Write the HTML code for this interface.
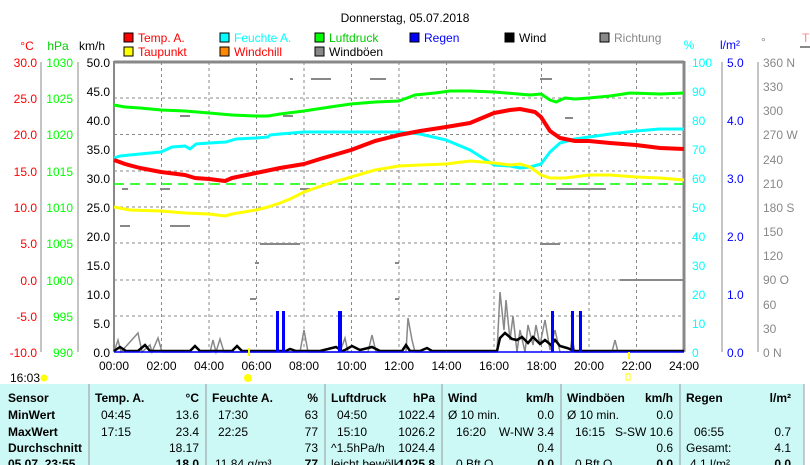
<!DOCTYPE html>
<html><head><meta charset="utf-8"><style>
body{margin:0;background:#fff;width:810px;height:465px;overflow:hidden;font-family:"Liberation Sans",sans-serif}
svg{position:absolute;left:0;top:0}
text{font-family:"Liberation Sans",sans-serif;font-size:12px}
</style></head><body>
<svg width="810" height="465" viewBox="0 0 810 465">
<text x="405" y="22" font-size="16" text-anchor="middle" fill="#000">Donnerstag, 05.07.2018</text>
<g font-size="12">
<rect x="124" y="33" width="9" height="9" fill="#f00" stroke="#000"/><text x="138" y="42" fill="#f00">Temp. A.</text>
<rect x="124" y="47" width="9" height="9" fill="#ff0" stroke="#000"/><text x="138" y="56" fill="#f00">Taupunkt</text>
<rect x="220" y="33" width="9" height="9" fill="#0ff" stroke="#000"/><text x="234" y="42" fill="#0ff">Feuchte A.</text>
<rect x="220" y="47" width="9" height="9" fill="#f80" stroke="#000"/><text x="234" y="56" fill="#f00">Windchill</text>
<rect x="315" y="33" width="9" height="9" fill="#0f0" stroke="#000"/><text x="329" y="42" fill="#0c0">Luftdruck</text>
<rect x="315" y="47" width="9" height="9" fill="#888" stroke="#000"/><text x="329" y="56" fill="#000">Windböen</text>
<rect x="410" y="33" width="9" height="9" fill="#00f" stroke="#000"/><text x="424" y="42" fill="#00f">Regen</text>
<rect x="505" y="33" width="9" height="9" fill="#000" stroke="#000"/><text x="519" y="42" fill="#000">Wind</text>
<rect x="600" y="33" width="9" height="9" fill="#888" stroke="#000"/><text x="614" y="42" fill="#888">Richtung</text>
</g>
<text x="27" y="50" fill="#f00" text-anchor="middle">°C</text>
<text x="58" y="50" fill="#0c0" text-anchor="middle">hPa</text>
<text x="92" y="50" fill="#000" text-anchor="middle">km/h</text>
<text x="689" y="49" fill="#0ff" text-anchor="middle">%</text>
<text x="730" y="49" fill="#00f" text-anchor="middle">l/m²</text>
<text x="761" y="46" fill="#888" font-size="9">°</text>
<text x="802" y="42" fill="#f88">T</text>
<line x1="800" y1="47" x2="810" y2="47" stroke="#888" stroke-width="2"/>
<g stroke="#888" stroke-dasharray="3,3" stroke-width="1">
<line x1="114" y1="98" x2="684" y2="98"/><line x1="114" y1="134.5" x2="684" y2="134.5"/><line x1="114" y1="171" x2="684" y2="171"/><line x1="114" y1="207" x2="684" y2="207"/><line x1="114" y1="243" x2="684" y2="243"/><line x1="114" y1="280" x2="684" y2="280"/><line x1="114" y1="316" x2="684" y2="316"/>
<line x1="161.5" y1="62" x2="161.5" y2="352"/><line x1="209" y1="62" x2="209" y2="352"/><line x1="256.5" y1="62" x2="256.5" y2="352"/><line x1="304" y1="62" x2="304" y2="352"/><line x1="351.5" y1="62" x2="351.5" y2="352"/><line x1="399" y1="62" x2="399" y2="352"/><line x1="446.5" y1="62" x2="446.5" y2="352"/><line x1="494" y1="62" x2="494" y2="352"/><line x1="541.5" y1="62" x2="541.5" y2="352"/><line x1="589" y1="62" x2="589" y2="352"/><line x1="636.5" y1="62" x2="636.5" y2="352"/>
</g>
<line x1="114" y1="62" x2="684" y2="62" stroke="#888" stroke-width="3"/>
<line x1="114" y1="61" x2="114" y2="352" stroke="#888" stroke-width="2"/>
<line x1="684" y1="61" x2="684" y2="352" stroke="#888" stroke-width="3"/>
<line x1="620" y1="280" x2="684" y2="280" stroke="#888" stroke-width="2"/>
<g stroke="#888"><line x1="41" y1="62" x2="41" y2="352"/><line x1="78" y1="62" x2="78" y2="352"/><line x1="722" y1="62" x2="722" y2="352"/><line x1="758" y1="62" x2="758" y2="352"/></g>
<g fill="#f00" text-anchor="end">
<text x="37" y="67">30.0</text><text x="37" y="103">25.0</text><text x="37" y="139">20.0</text><text x="37" y="176">15.0</text><text x="37" y="212">10.0</text><text x="37" y="248">5.0</text><text x="37" y="285">0.0</text><text x="37" y="321">-5.0</text><text x="37" y="357">-10.0</text></g>
<g fill="#0f0" text-anchor="end">
<text x="73" y="67">1030</text><text x="73" y="103">1025</text><text x="73" y="139">1020</text><text x="73" y="176">1015</text><text x="73" y="212">1010</text><text x="73" y="248">1005</text><text x="73" y="285">1000</text><text x="73" y="321">995</text><text x="73" y="357">990</text></g>
<g fill="#000" text-anchor="end">
<text x="110" y="67">50.0</text><text x="110" y="96">45.0</text><text x="110" y="125">40.0</text><text x="110" y="154">35.0</text><text x="110" y="183">30.0</text><text x="110" y="212">25.0</text><text x="110" y="241">20.0</text><text x="110" y="270">15.0</text><text x="110" y="299">10.0</text><text x="110" y="328">5.0</text><text x="110" y="357">0.0</text></g>
<g fill="#0ff">
<text x="692" y="67">100</text><text x="692" y="96">90</text><text x="692" y="125">80</text><text x="692" y="154">70</text><text x="692" y="183">60</text><text x="692" y="212">50</text><text x="692" y="241">40</text><text x="692" y="270">30</text><text x="692" y="299">20</text><text x="692" y="328">10</text><text x="692" y="357">0</text></g>
<g fill="#00f">
<text x="727" y="67">5.0</text><text x="727" y="125">4.0</text><text x="727" y="183">3.0</text><text x="727" y="241">2.0</text><text x="727" y="299">1.0</text><text x="727" y="357">0.0</text></g>
<g fill="#888">
<text x="763" y="67">360 N</text><text x="763" y="91">330</text><text x="763" y="115">300</text><text x="763" y="139">270 W</text><text x="763" y="164">240</text><text x="763" y="188">210</text><text x="763" y="212">180 S</text><text x="763" y="236">150</text><text x="763" y="260">120</text><text x="763" y="284">90  O</text><text x="763" y="309">60</text><text x="763" y="333">30</text><text x="763" y="357">0    N</text></g>
<g text-anchor="middle" fill="#000">
<text x="114" y="370">00:00</text><text x="161.5" y="370">02:00</text><text x="209" y="370">04:00</text><text x="256.5" y="370">06:00</text><text x="304" y="370">08:00</text><text x="351.5" y="370">10:00</text><text x="399" y="370">12:00</text><text x="446.5" y="370">14:00</text><text x="494" y="370">16:00</text><text x="541.5" y="370">18:00</text><text x="589" y="370">20:00</text><text x="636.5" y="370">22:00</text><text x="684" y="370">24:00</text></g>
<g fill="#888">
<rect x="290" y="78" width="3" height="2"/><rect x="311" y="78" width="20" height="2"/><rect x="370" y="78" width="16" height="2"/><rect x="540" y="78" width="12" height="2"/>
<rect x="180" y="115" width="10" height="2"/><rect x="283" y="115" width="10" height="2"/><rect x="565" y="117" width="8" height="2"/>
<rect x="122" y="188" width="6" height="2"/><rect x="160" y="188" width="10" height="2"/><rect x="300" y="188" width="10" height="2"/><rect x="556" y="188" width="50" height="2"/>
<rect x="120" y="225" width="10" height="2"/><rect x="170" y="225" width="20" height="2"/><rect x="260" y="243" width="40" height="2"/><rect x="540" y="243" width="20" height="2"/>
<rect x="255" y="262" width="4" height="2"/><rect x="395" y="262" width="4" height="2"/><rect x="250" y="298" width="6" height="2"/><rect x="395" y="298" width="4" height="2"/>
</g>
<line x1="114" y1="184" x2="684" y2="184" stroke="#0f0" stroke-width="1.5" stroke-dasharray="10,6"/>
<g fill="none" stroke-linejoin="round">
<polyline stroke="#0f0" stroke-width="3" points="114,105 125,107 140,108 161,110 185,111 209,113 232,115 256,116 268,116 280,114 304,111 330,107 351,104 375,102 399,101 415,95 435,93 450,91 470,91 494,92 518,94 530,95 541,94 550,100 556,102 565,98 575,99 589,98 610,96 630,93 660,94 684,93"/>
<polyline stroke="#0ff" stroke-width="3" points="114,158 120,156 140,154 161,152 172,147 185,146 190,149 196,144 209,143 226,142 236,139 256,138 268,137 270,135 280,134 304,132 330,132 351,132 372,132 399,132 420,134 446,140 470,150 494,165 510,166 520,168 530,167 541,164 550,152 560,143 575,139 589,137 610,134 636,131 660,129 684,129"/>
<polyline stroke="#f00" stroke-width="4" points="114,160 125,164 140,168 161,172 185,175 195,178 209,179 225,181 232,178 256,173 280,168 304,164 320,159 351,150 375,141 399,135 420,131 446,127 470,123 494,113 510,110 520,109 535,112 541,117 550,131 560,138 575,141 589,141 610,143 636,145 660,148 684,149"/>
<polyline stroke="#ff0" stroke-width="3" points="114,207 130,210 161,211 185,213 209,214 225,216 232,214 256,210 268,207 280,203 290,199 304,192 330,183 351,177 375,170 399,166 420,165 446,164 470,161 494,163 510,165 520,164 530,167 541,175 550,178 565,178 589,175 610,175 636,177 660,178 684,180"/>
</g>
<polyline fill="none" stroke="#888" stroke-width="1.5" points="114,352 118,340 121,352 138,333 142,352 150,345 152,352 158,338 162,352 210,352 213,340 216,352 220,339 224,352 300,352 304,330 308,352 340,352 345,338 348,352 368,352 372,335 376,352 406,352 408,318 412,340 415,352 497,352 500,292 504,330 506,300 510,340 513,316 517,352 520,330 525,352 528,325 533,345 536,325 540,345 545,320 550,350 555,330 560,352 570,352 572,338 575,352 612,352 615,340 618,352"/>
<polyline fill="none" stroke="#000" stroke-width="2.5" points="114,351 120,347 126,351 138,351 145,345 150,351 190,351 195,346 200,351 232,351 237,346 242,351 286,351 290,349 296,351 320,351 336,347 342,351 345,350 352,346 360,350 372,347 380,351 402,351 406,345 410,351 420,351 427,348 432,351 497,351 500,338 505,333 512,339 517,340 522,337 528,343 533,337 540,344 545,340 551,345 555,340 560,346 567,348 575,351 684,351"/>
<line x1="114" y1="352" x2="684" y2="352" stroke="#00f" stroke-width="1.5"/>
<g fill="#00f"><rect x="276" y="311" width="3" height="41"/><rect x="282" y="311" width="3" height="41"/><rect x="338" y="311" width="4" height="41"/><rect x="551" y="311" width="3" height="41"/><rect x="571" y="311" width="3" height="41"/><rect x="579" y="311" width="3" height="41"/></g>
<rect x="248" y="348" width="2" height="8" fill="#ff0"/><rect x="628" y="352" width="2" height="7" fill="#ff0"/>
<text x="10" y="382" font-size="11">16:03</text>
<circle cx="44" cy="378" r="3.5" fill="#ff0"/><circle cx="248" cy="378" r="4" fill="#ff0"/><rect x="626" y="374" width="4" height="6" fill="none" stroke="#ff0"/>
<rect x="0" y="384" width="804" height="81" fill="#ccf8f6"/>
<g stroke="#999"><line x1="89" y1="384" x2="89" y2="465"/><line x1="206" y1="384" x2="206" y2="465"/><line x1="325" y1="384" x2="325" y2="465"/><line x1="442" y1="384" x2="442" y2="465"/><line x1="561" y1="384" x2="561" y2="465"/><line x1="680" y1="384" x2="680" y2="465"/><line x1="804" y1="384" x2="804" y2="465"/></g>
<g font-size="12" font-weight="bold"><text x="8" y="402">Sensor</text><text x="8" y="419">MinWert</text><text x="8" y="436">MaxWert</text><text x="8" y="452">Durchschnitt</text><text x="8" y="468">05.07. 23:55</text>
<text x="95" y="402">Temp. A.</text><text x="199" y="402" text-anchor="end">°C</text>
<text x="212" y="402">Feuchte A.</text><text x="318" y="402" text-anchor="end">%</text>
<text x="331" y="402">Luftdruck</text><text x="435" y="402" text-anchor="end">hPa</text>
<text x="448" y="402">Wind</text><text x="554" y="402" text-anchor="end">km/h</text>
<text x="567" y="402">Windböen</text><text x="673" y="402" text-anchor="end">km/h</text>
<text x="686" y="402">Regen</text><text x="791" y="402" text-anchor="end">l/m²</text></g>
<g font-size="11">
<text x="101" y="419">04:45</text><text x="199" y="419" text-anchor="end">13.6</text><text x="101" y="436">17:15</text><text x="199" y="436" text-anchor="end">23.4</text><text x="199" y="452" text-anchor="end">18.17</text><text x="199" y="468" text-anchor="end" font-weight="bold">18.0</text>
<text x="218" y="419">17:30</text><text x="318" y="419" text-anchor="end">63</text><text x="218" y="436">22:25</text><text x="318" y="436" text-anchor="end">77</text><text x="318" y="452" text-anchor="end">73</text><text x="215" y="468">11.84 g/m³</text><text x="318" y="468" text-anchor="end" font-weight="bold">77</text>
<text x="337" y="419">04:50</text><text x="435" y="419" text-anchor="end">1022.4</text><text x="337" y="436">15:10</text><text x="435" y="436" text-anchor="end">1026.2</text><text x="331" y="452">^1.5hPa/h</text><text x="435" y="452" text-anchor="end">1024.4</text><text x="331" y="468">leicht bewölkt</text><text x="435" y="468" text-anchor="end" font-weight="bold">1025.8</text>
<text x="448" y="419">Ø 10 min.</text><text x="554" y="419" text-anchor="end">0.0</text><text x="456" y="436">16:20</text><text x="554" y="436" text-anchor="end">W-NW 3.4</text><text x="554" y="452" text-anchor="end">0.4</text><text x="456" y="468">0 Bft O</text><text x="554" y="468" text-anchor="end" font-weight="bold">0.0</text>
<text x="567" y="419">Ø 10 min.</text><text x="673" y="419" text-anchor="end">0.0</text><text x="575" y="436">16:15</text><text x="673" y="436" text-anchor="end">S-SW 10.6</text><text x="673" y="452" text-anchor="end">0.6</text><text x="575" y="468">0 Bft O</text><text x="673" y="468" text-anchor="end" font-weight="bold">0.0</text>
<text x="694" y="436">06:55</text><text x="791" y="436" text-anchor="end">0.7</text><text x="686" y="452">Gesamt:</text><text x="791" y="452" text-anchor="end">4.1</text><text x="690" y="468">4.1 l/m²</text><text x="791" y="468" text-anchor="end" font-weight="bold">0.0</text>
</g>
</svg>
</body></html>
